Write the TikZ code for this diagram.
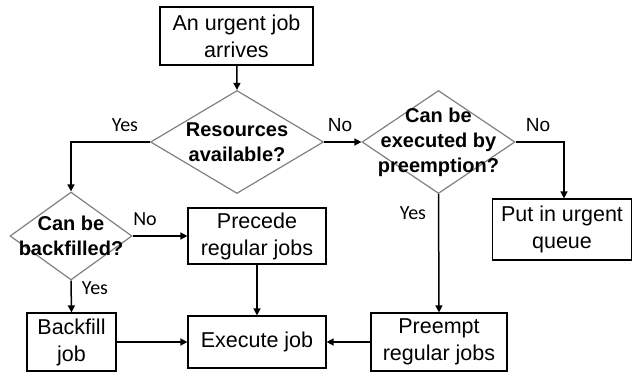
\documentclass[tikz,border=0pt]{standalone}
\usepackage{fontspec}
\setmainfont{Liberation Sans}
\newfontfamily\labelfont{Carlito}
\usetikzlibrary{shapes.geometric, arrows.meta}

\begin{document}
\begin{tikzpicture}[x=1pt, y=-1pt, >={Triangle[length=7pt,width=7pt]},
  box/.style={draw=black, line width=1.2pt, inner sep=0pt, align=center,
    font=\fontsize{21.5}{27}\selectfont},
  decision/.style={diamond, draw=black!50, line width=1.2pt, inner sep=0pt},
  dtext/.style={align=center, font=\fontsize{20}{25}\selectfont\bfseries},
  yes/.style={font=\labelfont\fontsize{20}{24}\selectfont},
  no/.style={font=\fontsize{19}{24}\selectfont},
  flow/.style={->, line width=1.5pt}]

\useasboundingbox (0,0) rectangle (634,372);

% Boxes
\node[box, minimum width=153pt, minimum height=58pt] (arrive) at (236.5,36) {An urgent job\\arrives};
\node[box, minimum width=138pt, minimum height=56pt] (precede) at (257,236) {Precede\\regular jobs};
\node[box, minimum width=138pt, minimum height=52pt] (exec) at (257,342) {Execute job};
\node[box, minimum width=89pt, minimum height=58pt] (backfill) at (71.5,342) {Backfill\\job};
\node[box, minimum width=136pt, minimum height=58pt] (preempt) at (439,342) {Preempt\\regular jobs};
\node[box, minimum width=139pt, minimum height=61pt] (queue) at (562,229.5) {Put in urgent\\queue};

% Decisions
\node[decision, minimum width=173pt, minimum height=103pt] (res) at (237,142) {};
\node[dtext] (restext) at (res.center) {Resources\\available?};
\node[decision, minimum width=153pt, minimum height=103pt] (pre) at (438.5,142) {};
\node[dtext] (pretext) at (pre.center) {Can be\\executed by\\preemption?};
\node[decision, minimum width=122pt, minimum height=88pt] (bf) at (71,236) {};
\node[dtext] (bftext) at (bf.center) {Can be\\backfilled?};

% Labels
\node[yes] (l1) at (125,125) {Yes};
\node[no] (l2) at (340,125) {No};
\node[no] (l3) at (538,125) {No};
\node[yes] (l4) at (413,213) {Yes};
\node[yes] (l5) at (145,219) {No};
\node[yes] (l6) at (95,288) {Yes};

% Arrows
\draw[flow] (arrive) -- (res.north);
\draw[flow] (res.west) -| (bf.north);
\draw[flow] (res.east) -- (pre.west);
\draw[flow] (pre.east) -| ([xshift=2pt]queue.north);
\draw[flow] (pre.south) -- (preempt.north);
\draw[flow] (bf.east) -- (precede.west);
\draw[flow] (bf.south) -- (backfill.north);
\draw[flow] (precede) -- (exec);
\draw[flow] (backfill) -- (exec);
\draw[flow] (preempt) -- (exec);

\end{tikzpicture}
\end{document}
